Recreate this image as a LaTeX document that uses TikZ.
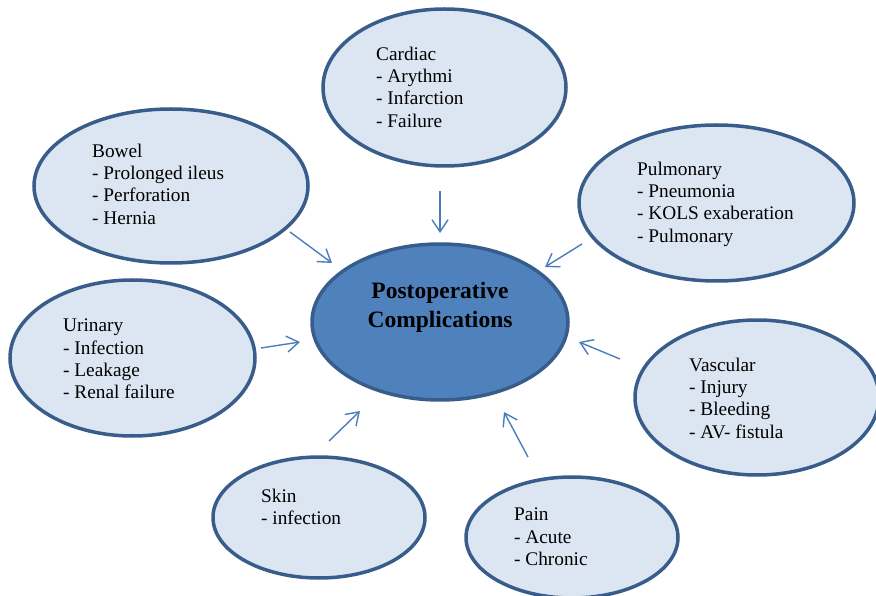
\documentclass[tikz,border=0pt]{standalone}
\usepackage{fontspec}
\setmainfont{Liberation Serif}
\usetikzlibrary{shapes.geometric,arrows.meta}
\definecolor{rimblue}{RGB}{56,93,138}
\definecolor{paleblue}{RGB}{220,230,242}
\definecolor{coreblue}{RGB}{79,129,189}
\definecolor{feedblue}{RGB}{74,126,187}
\begin{document}
\begin{tikzpicture}[x=1pt,y=-1pt,
  topic/.style={ellipse,draw=rimblue,line width=3.5pt,fill=paleblue,inner sep=0pt},
  core/.style={topic,fill=coreblue},
  topictext/.style={anchor=north west,align=left,inner sep=0pt,font=\fontsize{19.3}{22.2}\selectfont},
  coretext/.style={anchor=north,align=center,inner sep=0pt,font=\fontsize{23.5}{28.8}\selectfont\bfseries},
  feed/.style={draw=feedblue,line width=1.4pt,-{Straight Barb[length=12pt,width=16pt]}}]
\useasboundingbox (0,0) rectangle (876,596);
\node[core,minimum width=256pt,minimum height=156pt] (core) at (440,322) {};
\node[coretext] (core text) at (440,282) {Postoperative\\Complications};
\node[topic,minimum width=274pt,minimum height=154pt] (bowel) at (171,186) {};
\node[topictext] (bowel text) at (92,144) {Bowel\\- Prolonged ileus\\- Perforation\\- Hernia};
\node[topic,minimum width=243pt,minimum height=157pt] (cardiac) at (444.5,87.5) {};
\node[topictext] (cardiac text) at (376,47) {Cardiac\\- Arythmi\\- Infarction\\- Failure};
\node[topic,minimum width=275pt,minimum height=156pt] (pulmonary) at (716.5,203) {};
\node[topictext] (pulmonary text) at (637,162) {Pulmonary\\- Pneumonia\\- KOLS exaberation\\- Pulmonary};
\node[topic,minimum width=245pt,minimum height=156pt] (urinary) at (132.5,358) {};
\node[topictext] (urinary text) at (63,319) {Urinary\\- Infection\\- Leakage\\- Renal failure};
\node[topic,minimum width=244pt,minimum height=155pt] (vascular) at (757,397.5) {};
\node[topictext] (vascular text) at (689,358) {Vascular\\- Injury\\- Bleeding\\- AV- fistula};
\node[topic,minimum width=212pt,minimum height=121pt] (skin) at (319,517.5) {};
\node[topictext] (skin text) at (261,489) {Skin\\- infection};
\node[topic,minimum width=212pt,minimum height=121pt] (pain) at (572,537.5) {};
\node[topictext] (pain text) at (514,508) {Pain\\- Acute\\- Chronic};
\coordinate (bowel out) at (290,232);
\coordinate (bowel in) at (332,263);
\coordinate (cardiac out) at (440,191);
\coordinate (cardiac in) at (440,233);
\coordinate (pulmonary out) at (582,244);
\coordinate (pulmonary in) at (545,267);
\coordinate (urinary out) at (261,348);
\coordinate (urinary in) at (300,342);
\coordinate (vascular out) at (620,359);
\coordinate (vascular in) at (579,342);
\coordinate (skin out) at (329,441);
\coordinate (skin in) at (360,411);
\coordinate (pain out) at (528,457);
\coordinate (pain in) at (504,412);
\draw[feed] (bowel out) -- (bowel in);
\draw[feed] (cardiac out) -- (cardiac in);
\draw[feed] (pulmonary out) -- (pulmonary in);
\draw[feed] (urinary out) -- (urinary in);
\draw[feed] (vascular out) -- (vascular in);
\draw[feed] (skin out) -- (skin in);
\draw[feed] (pain out) -- (pain in);
\end{tikzpicture}
\end{document}
